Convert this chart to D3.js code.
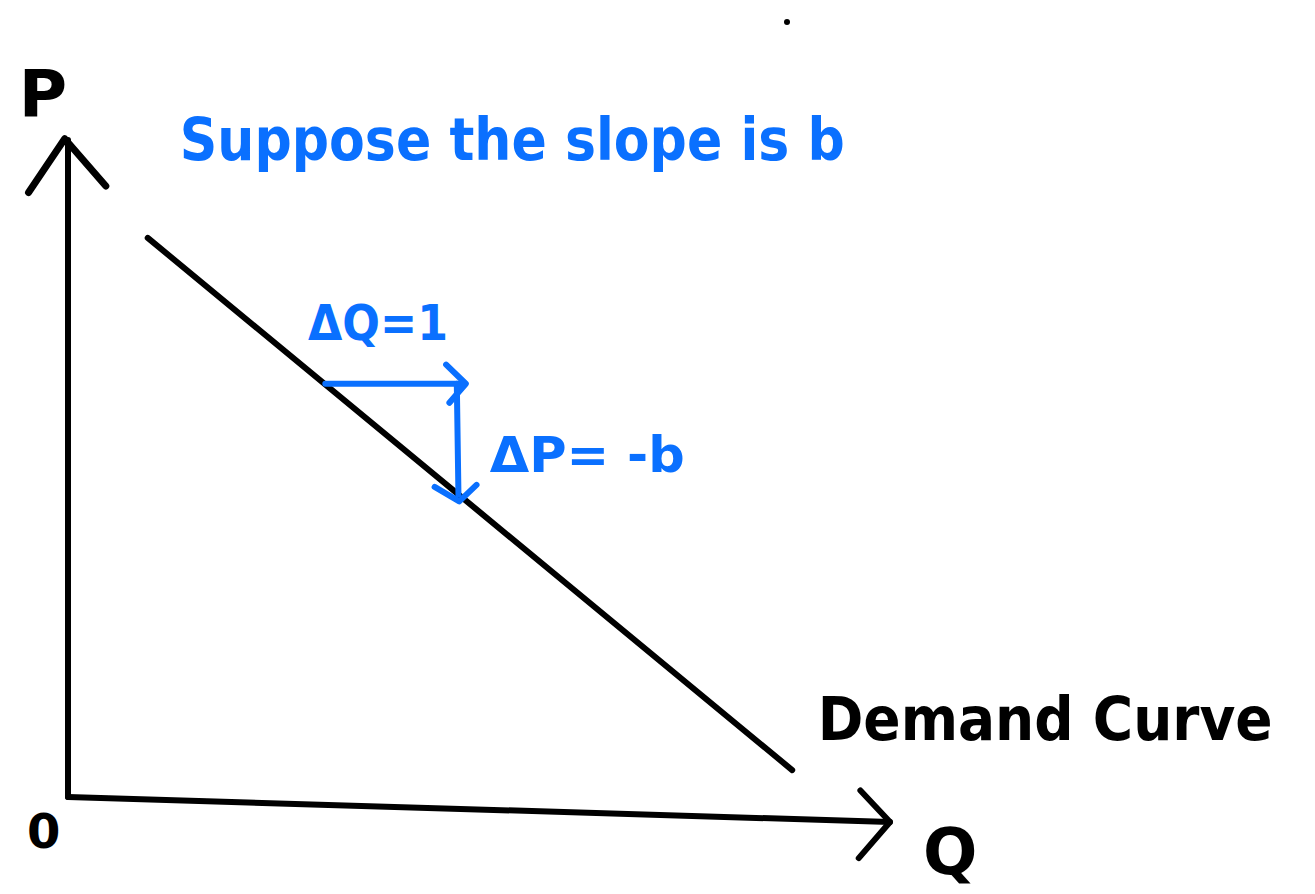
<html>
<title>Demand curve slope</title>
<style>
body { margin: 0; background: #ffffff; }
</style>
<body>
<svg width="1315" height="894"></svg>
<script src="https://d3js.org/d3.v7.min.js"></script>
<script>

// data, in chart units (Q across, P up)
var axisP = [[0, 0], [0, 10]];
var axisQ = [[0, 0], [10, -0.38]];
var arrowP = [[-0.48, 9.2], [-0.04, 10.02], [0.46, 9.3]];
var arrowQ = [[9.64, 0.1], [10, -0.38], [9.62, -0.93]];
var demand = [[0.97, 8.51], [8.81, 0.41]];
var deltaQ = [[3.13, 6.29], [4.81, 6.29]];
var deltaQHead = [[4.6, 6.58], [4.84, 6.29], [4.64, 6.0]];
var deltaP = [[4.73, 6.29], [4.75, 4.6]];
var deltaPHead = [[4.46, 4.72], [4.76, 4.5], [4.97, 4.75]];

var labels = [
  {text: "P", q: -0.6, p: 10.35, size: 66, len: 0, color: "black"},
  {text: "0", q: -0.5, p: -0.78, size: 48, len: 0, color: "black"},
  {text: "Q", q: 10.4, p: -1.17, size: 64, len: 0, color: "black"},
  {text: "Suppose the slope is b", q: 1.36, p: 9.7, size: 58, len: 665, color: "blue"},
  {text: "ΔQ=1", q: 2.92, p: 6.95, size: 50, len: 140, color: "blue"},
  {text: "ΔP= -b", q: 5.13, p: 4.95, size: 50, len: 195, color: "blue"},
  {text: "Demand Curve", q: 9.12, p: 0.87, size: 60, len: 455, color: "black"}
];

var blue = "#0a70ff";

var svg = d3.select("svg"),
    width = +svg.attr("width"),
    height = +svg.attr("height");

var x = d3.scaleLinear().domain([0, 10]).range([68, 890]);
var y = d3.scaleLinear().domain([0, 10]).range([797, 140]);

var line = d3.line()
    .x(function(d) { return x(d[0]); })
    .y(function(d) { return y(d[1]); });

function stroke(pts, color, w) {
  svg.append("path")
      .attr("d", line(pts))
      .attr("fill", "none")
      .attr("stroke", color)
      .attr("stroke-width", w)
      .attr("stroke-linecap", "round")
      .attr("stroke-linejoin", "round");
}

stroke(axisP, "black", 6);
stroke(axisQ, "black", 6);
stroke(arrowP, "black", 7);
stroke(arrowQ, "black", 6);
stroke(demand, "black", 6);

stroke(deltaQ, blue, 6);
stroke(deltaQHead, blue, 6);
stroke(deltaP, blue, 6);
stroke(deltaPHead, blue, 6);

// stray pen dot
svg.append("circle")
    .attr("cx", 787).attr("cy", 22).attr("r", 3)
    .attr("fill", "black");

svg.selectAll("text.lbl")
  .data(labels)
  .enter().append("text")
    .attr("class", "lbl")
    .attr("x", function(d) { return x(d.q); })
    .attr("y", function(d) { return y(d.p); })
    .attr("font-family", "'DejaVu Sans', sans-serif")
    .attr("font-weight", "bold")
    .attr("font-size", function(d) { return d.size; })
    .attr("fill", function(d) { return d.color == "blue" ? blue : "black"; })
    .attr("textLength", function(d) { return d.len || null; })
    .attr("lengthAdjust", "spacingAndGlyphs")
    .text(function(d) { return d.text; });

</script>
</body>
</html>
